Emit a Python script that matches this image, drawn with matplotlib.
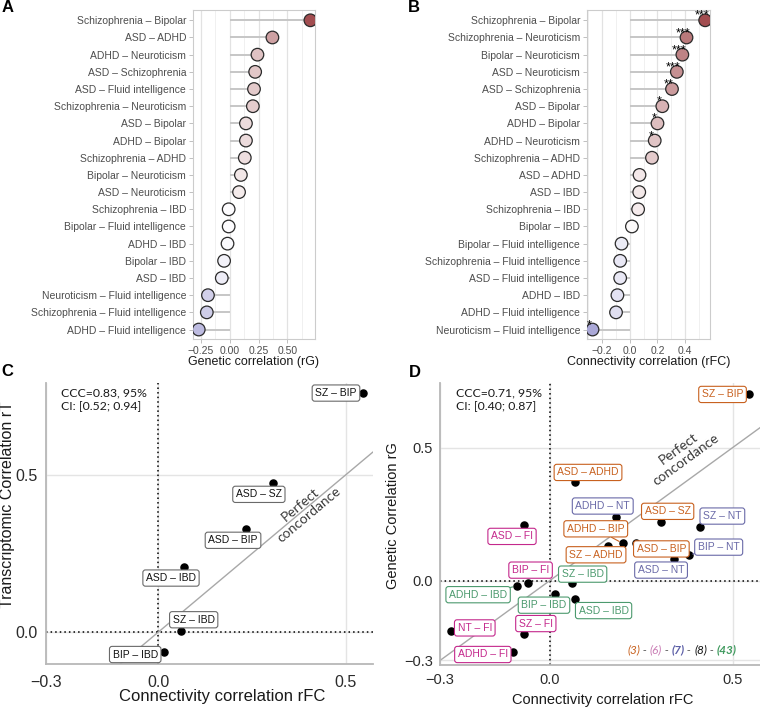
import numpy as np
import matplotlib
matplotlib.use('Agg')
import matplotlib.pyplot as plt
from matplotlib.colors import to_rgb

# ---------------- data ----------------
a_pairs = ['Schizophrenia – Bipolar', 'ASD – ADHD', 'ADHD – Neuroticism', 'ASD – Schizophrenia',
           'ASD – Fluid intelligence', 'Schizophrenia – Neuroticism', 'ASD – Bipolar', 'ADHD – Bipolar',
           'Schizophrenia – ADHD', 'Bipolar – Neuroticism', 'ASD – Neuroticism', 'Schizophrenia – IBD',
           'Bipolar – Fluid intelligence', 'ADHD – IBD', 'Bipolar – IBD', 'ASD – IBD',
           'Neuroticism – Fluid intelligence', 'Schizophrenia – Fluid intelligence', 'ADHD – Fluid intelligence']
a_rg = [0.70, 0.37, 0.24, 0.22, 0.21, 0.20, 0.14, 0.14, 0.13, 0.096, 0.08, -0.01,
        -0.01, -0.02, -0.05, -0.07, -0.19, -0.20, -0.27]

b_pairs = ['Schizophrenia – Bipolar', 'Schizophrenia – Neuroticism', 'Bipolar – Neuroticism',
           'ASD – Neuroticism', 'ASD – Schizophrenia', 'ASD – Bipolar', 'ADHD – Bipolar',
           'ADHD – Neuroticism', 'Schizophrenia – ADHD', 'ASD – ADHD', 'ASD – IBD', 'Schizophrenia – IBD',
           'Bipolar – IBD', 'Bipolar – Fluid intelligence', 'Schizophrenia – Fluid intelligence',
           'ASD – Fluid intelligence', 'ADHD – IBD', 'ADHD – Fluid intelligence',
           'Neuroticism – Fluid intelligence']
b_rfc = [0.545, 0.41, 0.38, 0.34, 0.305, 0.235, 0.20, 0.18, 0.16, 0.07, 0.068, 0.06,
         0.015, -0.06, -0.07, -0.07, -0.09, -0.10, -0.27]
b_stars = ['***', '***', '***', '***', '**', '*', '*', '*', '', '', '', '',
           '', '', '', '', '', '', '*']

c_pairs = ['SZ – BIP', 'ASD – SZ', 'ASD – BIP', 'ASD – IBD', 'SZ – IBD', 'BIP – IBD']
c_rt = [0.76, 0.475, 0.328, 0.208, 0.004, -0.062]

abbrev = {'Schizophrenia': 'SZ', 'Bipolar': 'BIP', 'Neuroticism': 'NT',
          'Fluid intelligence': 'FI', 'ASD': 'ASD', 'ADHD': 'ADHD', 'IBD': 'IBD'}

legend_parts = ['(3)', '(6)', '(7)', '(8)', '(43)']

ccc_c = 'CCC=0.83, 95%\nCI: [0.52; 0.94]'
ccc_d = 'CCC=0.71, 95%\nCI: [0.40; 0.87]'

# ---------------- helpers ----------------
W, H = 760, 708
plt.rcParams['font.family'] = ['Liberation Sans', 'DejaVu Sans']
fig = plt.figure(figsize=(W / 100, H / 100), dpi=100)
SOFT = ['Lato', 'DejaVu Sans']


def rect(l, t, r, b):
    return [l / W, 1 - b / H, (r - l) / W, (b - t) / H]


def short(p):
    a, b = p.split(' – ')
    return abbrev[a] + ' – ' + abbrev[b]


LOW = np.array(to_rgb('#544faf'))
HIGH = np.array(to_rgb('#a24d50'))


def fill(v, m):
    f = min(abs(v) / m, 1.0)
    base = HIGH if v > 0 else LOW
    return tuple(1 + f * (base - 1))


def lollipop(ax, cats, vals, xlim, ticks, tlabels, minor, stars=None):
    n = len(cats)
    y = np.arange(n)[::-1]
    m = max(abs(v) for v in vals)
    for t in minor:
        ax.axvline(t, color='#f0f0f0', lw=0.7, zorder=0)
    for t in ticks:
        ax.axvline(t, color='#e2e2e2', lw=0.9, zorder=0)
    ax.hlines(y, 0, vals, color='#c6c6c6', lw=1.4, zorder=1)
    ax.scatter(vals, y, s=82, c=[fill(v, m) for v in vals], edgecolors='#2a2a2a',
               linewidths=0.9, zorder=3)
    if stars is not None:
        for v, yy, s in zip(vals, y, stars):
            if s:
                ax.annotate(s, (v, yy), xytext=(-3.5, 1.5), textcoords='offset pixels',
                            ha='center', va='baseline', fontsize=9, color='black', zorder=4)
    ax.set_yticks(y)
    ax.set_yticklabels(cats)
    ax.set_xticks(ticks)
    ax.set_xticklabels(tlabels)
    ax.set_xlim(*xlim)
    ax.set_ylim(-0.55, n - 0.4)
    for s in ax.spines.values():
        s.set_color('#cccccc')
        s.set_linewidth(0.8)
    ax.tick_params(length=3, width=0.6, color='#b5b5b5', labelcolor='#4d4d4d',
                   labelsize=7.5, pad=2)


# ---------------- panel A ----------------
axA = fig.add_axes(rect(193, 10, 315, 339))
lollipop(axA, a_pairs, a_rg, (-0.32, 0.74), [-0.25, 0, 0.25, 0.5],
         ['−0.25', '0.00', '0.25', '0.50'], [-0.125, 0.125, 0.375, 0.625])
fig.text(254 / W, 1 - 362 / H, 'Genetic correlation (rG)', ha='center', va='center',
         fontsize=9, color='#1a1a1a')

# ---------------- panel B ----------------
axB = fig.add_axes(rect(587, 10, 710, 339))
lollipop(axB, b_pairs, b_rfc, (-0.31, 0.58), [-0.2, 0, 0.2, 0.4],
         ['−0.2', '0.0', '0.2', '0.4'], [-0.3, -0.1, 0.1, 0.3, 0.5], stars=b_stars)
fig.text(648.5 / W, 1 - 362 / H, 'Connectivity correlation (rFC)', ha='center', va='center',
         fontsize=9, color='#1a1a1a')

# lookups
rg = {short(p): v for p, v in zip(a_pairs, a_rg)}
rfc = {short(p): v for p, v in zip(b_pairs, b_rfc)}


def fmt(t):
    return ('−%.1f' % -t) if t < 0 else '%.1f' % t


def scatter_panel(ax, xlim, ylim, xticks, yticks, fs_tick, pad_x, pad_y):
    ax.set_xlim(*xlim)
    ax.set_ylim(*ylim)
    ax.set_xticks(xticks)
    ax.set_xticklabels([fmt(t) for t in xticks])
    ax.set_yticks(yticks)
    ax.set_yticklabels([fmt(t) for t in yticks])
    for t in xticks:
        ax.axvline(t, color='#e4e4e4', lw=1.0, zorder=0)
    for t in yticks:
        ax.axhline(t, color='#e4e4e4', lw=1.0, zorder=0)
    for k in ['top', 'right']:
        ax.spines[k].set_visible(False)
    for k in ['left', 'bottom']:
        ax.spines[k].set_color('#b8b8b8')
        ax.spines[k].set_linewidth(1.3)
    ax.tick_params(axis='x', length=0, labelsize=fs_tick, labelcolor='#2b2b2b', pad=pad_x)
    ax.tick_params(axis='y', length=0, labelsize=fs_tick, labelcolor='#2b2b2b', pad=pad_y)
    ax.axvline(0, color='black', lw=1.1, ls=(0, (1, 2)), zorder=1)
    ax.axhline(0, color='black', lw=1.1, ls=(0, (1, 2)), zorder=1)
    ax.axline((0, 0), slope=1, color='#a8a8a8', lw=1.0, zorder=1)
    ax.patch.set_alpha(0)


def concord_text(ax, x, y, fs):
    p0 = ax.transData.transform((0, 0))
    p1 = ax.transData.transform((1, 1))
    ang = np.degrees(np.arctan2(p1[1] - p0[1], p1[0] - p0[0]))
    ax.text(x, y, 'Perfect\nconcordance', rotation=ang, rotation_mode='anchor',
            ha='center', va='center', fontsize=fs, family=SOFT,
            color='#3a3a3a', linespacing=1.1, zorder=2)


# ---------------- panel C ----------------
axC = fig.add_axes(rect(45.7, 383, 372.7, 664.3))
scatter_panel(axC, (-0.296, 0.572), (-0.102, 0.792), [-0.3, 0.0, 0.5], [0.0, 0.5], 11.5, 8, 6)
cx = [rfc[p] for p in c_pairs]
axC.scatter(cx, c_rt, s=26, color='black', zorder=4)
c_off = {'SZ – BIP': (-26.6, 0), 'ASD – SZ': (-13.7, 11.6), 'ASD – BIP': (-13.3, 11.3),
         'ASD – IBD': (-12.7, 11.3), 'SZ – IBD': (13, -11.2), 'BIP – IBD': (-28.6, 2.8)}
for p, x, y in zip(c_pairs, cx, c_rt):
    dx, dy = c_off[p]
    axC.annotate(p, (x, y), xytext=(dx, -dy), textcoords='offset pixels', ha='center', va='center',
                 fontsize=7.5, color='#111111', zorder=5,
                 bbox=dict(boxstyle='round,pad=0.3,rounding_size=0.25', fc='white', ec='#6a6a6a', lw=0.8))
fig.text(60.7 / W, 1 - 387 / H, ccc_c, ha='left', va='top', fontsize=8.8,
         family=SOFT, color='#1a1a1a', linespacing=1.3)
concord_text(axC, 0.39, 0.39, 10)
fig.text(222 / W, 1 - 697 / H, 'Connectivity correlation rFC', ha='center', va='center',
         fontsize=12, color='#1a1a1a')
fig.text(8 / W, 1 - 505 / H, 'Transcriptomic Correlation rT', ha='center', va='center',
         rotation=90, fontsize=11.5, color='#1a1a1a')

# ---------------- panel D ----------------
axD = fig.add_axes(rect(440, 383, 760, 665))
scatter_panel(axD, (-0.3, 0.575), (-0.317, 0.743), [-0.3, 0.0, 0.5], [-0.3, 0.0, 0.5], 10.5, 6, 5)
d_names = [short(p) for p in a_pairs]
dx_vals = [rfc[n] for n in d_names]
dy_vals = [rg[n] for n in d_names]
axD.scatter(dx_vals, dy_vals, s=26, color='black', zorder=4)

COL = {'FI': '#c4288c', 'IBD': '#4c9a6e', 'NT': '#6a6aa8', 'PSY': '#c8611f'}


def group(n):
    parts = n.split(' – ')
    for g in ['FI', 'IBD', 'NT']:
        if g in parts:
            return g
    return 'PSY'


d_off = {'SZ – BIP': (-26.5, 0), 'ASD – ADHD': (12.7, -9.8), 'ADHD – NT': (-12.8, -10.8),
         'ASD – SZ': (6.4, -10.8), 'SZ – NT': (22.7, -11.4), 'ASD – FI': (-12.1, 11.6),
         'ADHD – BIP': (-27.1, -14.6), 'ASD – BIP': (25.7, 5.5), 'SZ – ADHD': (-12.2, 8.7),
         'BIP – NT': (30, -8), 'ASD – NT': (-13, 10.7), 'BIP – FI': (2.8, -13.2),
         'SZ – IBD': (11, -9.2), 'ADHD – IBD': (-38.7, 8.7), 'BIP – IBD': (-11.2, 11.2),
         'ASD – IBD': (29, 11.3), 'NT – FI': (23.8, -3.3), 'SZ – FI': (11.7, -10.3),
         'ADHD – FI': (-30.3, 2)}
seg = {'ADHD – BIP', 'BIP – NT', 'ADHD – IBD'}
for n, x, y in zip(d_names, dx_vals, dy_vals):
    col = COL[group(n)]
    dx, dy = d_off[n]
    kw = {}
    if n in seg:
        kw['arrowprops'] = dict(arrowstyle='-', color=col, lw=0.8, shrinkA=0, shrinkB=3)
    axD.annotate(n, (x, y), xytext=(dx, -dy), textcoords='offset pixels', ha='center', va='center',
                 fontsize=7.5, color=col, zorder=5,
                 bbox=dict(boxstyle='round,pad=0.3,rounding_size=0.25', fc='white', ec=col, lw=0.8),
                 **kw)
fig.text(456 / W, 1 - 387 / H, ccc_d, ha='left', va='top', fontsize=8.8,
         family=SOFT, color='#1a1a1a', linespacing=1.3)
concord_text(axD, 0.362, 0.476, 10)
fig.text(603 / W, 1 - 700 / H, 'Connectivity correlation rFC', ha='center', va='center',
         fontsize=10.5, color='#1a1a1a')
fig.text(393 / W, 1 - 516 / H, 'Genetic Correlation rG', ha='center', va='center',
         rotation=90, fontsize=10.5, color='#1a1a1a')

# legend of counts
leg_cols = ['#c8611f', '#c97bb4', '#5b5ea6', '#111111', '#3f9a5e']
leg_bold = [False, False, True, False, True]
prev = fig.text(627 / W, 1 - 650 / H, legend_parts[0], ha='left', va='center', fontsize=8.5,
                style='italic', family=SOFT, color=leg_cols[0])
for part, c, b in zip(legend_parts[1:], leg_cols[1:], leg_bold[1:]):
    s = axD.annotate(' - ', xy=(1, 0), xycoords=prev, ha='left', va='bottom', fontsize=8.5,
                     style='italic', family=SOFT, color='#555555', annotation_clip=False)
    prev = axD.annotate(part, xy=(1, 0), xycoords=s, ha='left', va='bottom', fontsize=8.5,
                        style='italic', fontweight='bold' if b else 'normal',
                        family=SOFT, color=c, annotation_clip=False)

# panel letters
for letter, (x, y) in zip('ABCD', [(8, 8), (414, 8), (7, 371), (415, 372)]):
    fig.text(x / W, 1 - y / H, letter, ha='center', va='center', fontsize=12, fontweight='bold')

fig.savefig('out.png', dpi=100)
